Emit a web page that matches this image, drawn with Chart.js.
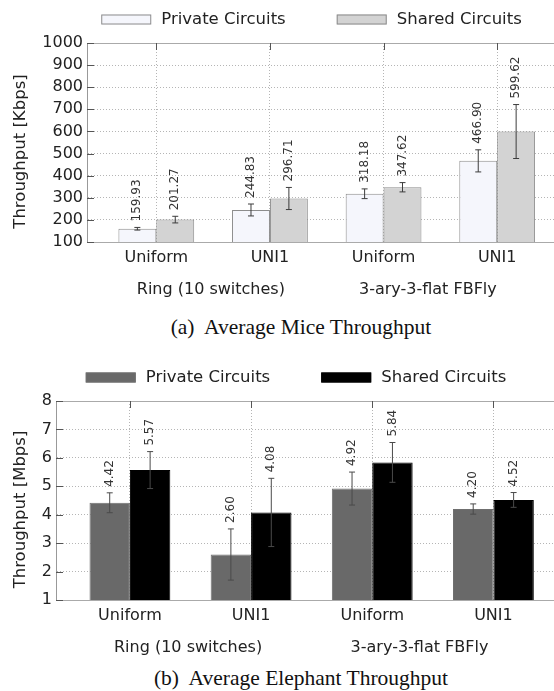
<!DOCTYPE html>
<html>
<head>
<meta charset="utf-8">
<script src="https://cdn.jsdelivr.net/npm/chart.js@4/dist/chart.umd.min.js"></script>
<style>
  body { margin: 0; background: #fff; width: 554px; height: 691px; position: relative; overflow: hidden; }
  .panel { position: absolute; left: 0; width: 554px; }
  .caption { position: absolute; left: 0; width: 602px; text-align: center; white-space: pre;
             font-family: "Liberation Serif", "Times New Roman", serif; font-size: 21.5px; line-height: 1; color: #111; }
</style>
</head>
<body>
<div class="panel" style="top:0;height:305px"><canvas id="mice" width="554" height="305"></canvas></div>
<div class="caption" style="top:317px">(a)  Average Mice Throughput</div>
<div class="panel" style="top:350px;height:310px"><canvas id="elephant" width="554" height="310"></canvas></div>
<div class="caption" style="top:668px">(b)  Average Elephant Throughput</div>

<script>
// categories on the x axis and the two topology groups below them
const categories = ["Uniform", "UNI1", "Uniform", "UNI1"];
const groupLabels = ["Ring (10 switches)", "3-ary-3-flat FBFly"];
const groupCenters = [0.48, 2.39];
const seriesNames = ["Private Circuits", "Shared Circuits"];

// (a) mice throughput, Kbps
const miceTicks = [100, 200, 300, 400, 500, 600, 700, 800, 900, 1000];
const micePrivate = [159.93, 244.83, 318.18, 466.90];
const miceShared = [201.27, 296.71, 347.62, 599.62];
const micePrivateErr = [6, 27, 22, 50];
const miceSharedErr = [15, 50, 21, 122];

// (b) elephant throughput, Mbps
const elephantTicks = [1, 2, 3, 4, 5, 6, 7, 8];
const elephantPrivate = [4.42, 2.60, 4.92, 4.20];
const elephantShared = [5.57, 4.08, 5.84, 4.52];
const elephantPrivateErr = [0.35, 0.9, 0.58, 0.18];
const elephantSharedErr = [0.65, 1.2, 0.7, 0.26];

const FONT = "'DejaVu Sans', Verdana, sans-serif";

function makeChart(id, cfg) {
  // error bars, value labels, legend and the extra texts
  const decor = {
    id: "decor",
    afterDatasetsDraw(chart) {
      const ctx = chart.ctx;
      const y = chart.scales.y;
      ctx.save();
      cfg.values.forEach((vals, d) => {
        const meta = chart.getDatasetMeta(d);
        vals.forEach((v, i) => {
          const bx = meta.data[i].x;
          const top = y.getPixelForValue(v + cfg.errors[d][i]);
          const bot = y.getPixelForValue(v - cfg.errors[d][i]);
          ctx.strokeStyle = cfg.errColor;
          ctx.lineWidth = 1;
          ctx.beginPath();
          ctx.moveTo(bx, top); ctx.lineTo(bx, bot);
          ctx.moveTo(bx - 3, top); ctx.lineTo(bx + 3, top);
          ctx.moveTo(bx - 3, bot); ctx.lineTo(bx + 3, bot);
          ctx.stroke();
          // rotated value label above the error bar
          ctx.save();
          ctx.translate(bx, top - 6);
          ctx.rotate(-Math.PI / 2);
          ctx.font = "12px " + FONT;
          ctx.fillStyle = "#333";
          ctx.textAlign = "left";
          ctx.textBaseline = "middle";
          ctx.fillText(v.toFixed(2), 0, 0);
          ctx.restore();
        });
      });
      ctx.restore();
    },
    afterDraw(chart) {
      const ctx = chart.ctx;
      const ca = chart.chartArea;
      const xs = chart.scales.x;
      const ys = chart.scales.y;
      ctx.save();

      // top border and inward ticks
      ctx.strokeStyle = "#aaa";
      ctx.lineWidth = 1;
      ctx.beginPath();
      ctx.moveTo(ca.left, ca.top + 0.5); ctx.lineTo(ca.right, ca.top + 0.5);
      ctx.stroke();
      ctx.strokeStyle = "#555";
      ctx.beginPath();
      cfg.ticks.forEach(t => {
        const py = Math.round(ys.getPixelForValue(t)) + 0.5;
        ctx.moveTo(ca.left, py); ctx.lineTo(ca.left + 7, py);
      });
      categories.forEach((c, i) => {
        const px = Math.round(xs.getPixelForValue(i)) + 0.5;
        ctx.moveTo(px, ca.top); ctx.lineTo(px, ca.top + 7);
      });
      ctx.stroke();

      // legend
      ctx.font = "16.5px " + FONT;
      ctx.textBaseline = "middle";
      ctx.textAlign = "left";
      const widths = seriesNames.map(s => ctx.measureText(s).width);
      const total = 50 + 10 + widths[0] + 51 + 50 + 10 + widths[1];
      let lx = (ca.left + ca.right) / 2 - 9 - total / 2;
      const ly = ca.top - 23.5;
      seriesNames.forEach((s, d) => {
        ctx.fillStyle = cfg.fills[d];
        ctx.fillRect(lx, ly - 5, 50, 10);
        ctx.strokeStyle = cfg.borders[d];
        ctx.strokeRect(lx + 0.5, ly - 4.5, 49, 9);
        ctx.fillStyle = "#222";
        ctx.fillText(s, lx + 60, ly);
        lx += 60 + widths[d] + 51;
      });

      // y axis title
      ctx.save();
      ctx.translate(21, (ca.top + ca.bottom) / 2 + 9);
      ctx.rotate(-Math.PI / 2);
      ctx.textAlign = "center";
      ctx.fillText(cfg.yTitle, 0, 0);
      ctx.restore();

      // topology group labels
      ctx.font = "16px " + FONT;
      ctx.textAlign = "center";
      groupLabels.forEach((g, k) => {
        ctx.fillText(g, xs.getPixelForValue(groupCenters[k]), ca.bottom + 47.5);
      });
      ctx.restore();
    }
  };

  return new Chart(document.getElementById(id), {
    type: "bar",
    data: {
      datasets: cfg.values.map((vals, d) => ({
        label: seriesNames[d],
        data: vals.map((v, i) => ({ x: i, y: v })),
        backgroundColor: cfg.fills[d],
        borderColor: cfg.borders[d],
        borderWidth: 1,
        borderSkipped: false,
        barPercentage: 1,
        categoryPercentage: 0.667
      }))
    },
    options: {
      responsive: false,
      animation: false,
      events: [],
      layout: { padding: { top: cfg.padTop, left: 0, right: 0, bottom: 0 } },
      plugins: { legend: { display: false }, tooltip: { enabled: false } },
      scales: {
        x: {
          type: "linear",
          min: -0.61,
          max: 3.5,
          offset: false,
          grid: { offset: false, color: "#b5b5b5", drawTicks: false },
          border: { color: "#aaa", dash: [1, 2] },
          afterBuildTicks(s) { s.ticks = categories.map((c, i) => ({ value: i })); },
          ticks: {
            callback: v => categories[v],
            font: { family: FONT, size: 16 },
            color: "#222",
            padding: 6,
            autoSkip: false,
            maxRotation: 0
          },
          afterFit(s) { s.height = cfg.xHeight; }
        },
        y: {
          min: cfg.ticks[0],
          max: cfg.ticks[cfg.ticks.length - 1],
          afterBuildTicks(s) { s.ticks = cfg.ticks.map(t => ({ value: t })); },
          grid: { color: "#b5b5b5", drawTicks: false },
          border: { color: "#999", dash: [1, 2] },
          ticks: { callback: v => String(v), font: { family: FONT, size: 16 }, color: "#222", padding: 4, autoSkip: false },
          afterFit(s) { s.width = cfg.yWidth; }
        }
      }
    },
    plugins: [decor]
  });
}

makeChart("mice", {
  values: [micePrivate, miceShared],
  errors: [micePrivateErr, miceSharedErr],
  ticks: miceTicks,
  yTitle: "Throughput [Kbps]",
  fills: ["#f5f6fc", "#d3d3d3"],
  borders: ["#8c8c8c", "#8c8c8c"],
  errColor: "#3c3c3c",
  padTop: 43,
  xHeight: 63,
  yWidth: 87
});

makeChart("elephant", {
  values: [elephantPrivate, elephantShared],
  errors: [elephantPrivateErr, elephantSharedErr],
  ticks: elephantTicks,
  yTitle: "Throughput [Mbps]",
  fills: ["#696969", "#000000"],
  borders: ["#6f6f6f", "#000000"],
  errColor: "#4a4a4a",
  padTop: 51,
  xHeight: 60,
  yWidth: 56
});
</script>
</body>
</html>
